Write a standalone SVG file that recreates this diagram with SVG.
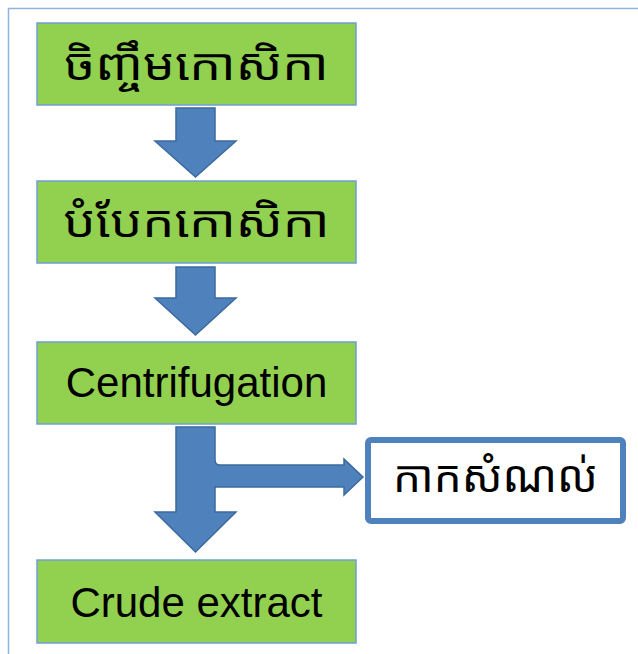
<svg xmlns="http://www.w3.org/2000/svg" width="638" height="654" viewBox="0 0 638 654">
<style>
.box{fill:#92D050;stroke:#6F9ED3;stroke-width:1.5}
.res{fill:#FFFFFF;stroke:#4F81BD;stroke-width:6}
.arr{fill:#4F81BD;stroke:#3C6A9E;stroke-width:1.5;stroke-linejoin:miter}
.kh{font-family:"Noto Sans Khmer","Khmer OS","Khmer OS System","Noto Serif Khmer","DejaVu Sans",sans-serif;font-size:44px;fill:#000000;text-anchor:middle}
.en{font-family:"Liberation Sans",Arial,sans-serif;font-size:42px;fill:#000000;text-anchor:middle}
.frame{fill:none;stroke:#8EB4E3;stroke-width:1.5}
</style>
<rect x="0" y="0" width="638" height="654" fill="#FFFFFF"/>
<path class="frame" d="M8.5,654 L8.5,8.5 L638,8.5"/>
<g id="connectors">
<path class="arr" d="M176,108 L215,108 L215,141 L236,141 L195.5,177 L155,141 L176,141 Z"/>
<path class="arr" d="M176,267 L215,267 L215,298 L236,298 L195.5,335 L155,298 L176,298 Z"/>
<path class="arr" d="M176,427 L215,427 L215,460 Q215,465 220,465 L344,465 L344,459 L363,477 L344,495 L344,487 L215,487 L215,512 L236,512 L195.5,552 L155,512 L176,512 Z"/>
</g>
<g id="node1">
<rect class="box" x="37" y="23" width="319" height="82"/>
<text class="kh" x="196.5" y="80" textLength="264" lengthAdjust="spacingAndGlyphs">ចិញ្ចឹមកោសិកា</text>
</g>
<g id="node2">
<rect class="box" x="37" y="181" width="319" height="82"/>
<text class="kh" x="196.5" y="237" textLength="266" lengthAdjust="spacingAndGlyphs">បំបែកកោសិកា</text>
</g>
<g id="node3">
<rect class="box" x="37" y="342" width="319" height="82"/>
<text class="en" x="196.5" y="397">Centrifugation</text>
</g>
<g id="node4">
<rect class="box" x="37" y="560" width="319" height="83"/>
<text class="en" x="196.5" y="617">Crude extract</text>
</g>
<g id="node5">
<rect class="res" x="368" y="440" width="255" height="81" rx="3"/>
<text class="kh" x="495.5" y="492">កាកសំណល់</text>
</g>
</svg>
